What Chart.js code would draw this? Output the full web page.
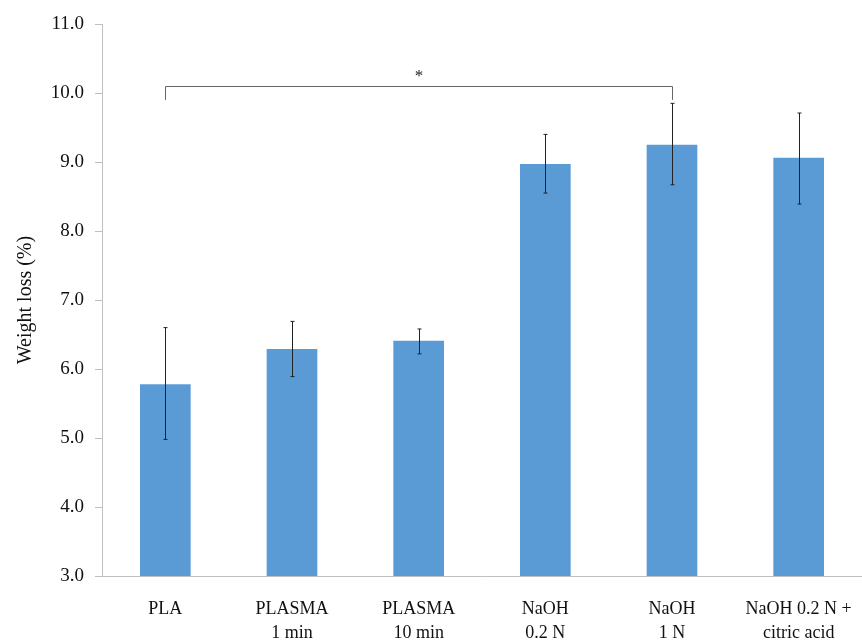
<!DOCTYPE html>
<html>
<head>
<meta charset="utf-8">
<script src="https://cdn.jsdelivr.net/npm/chart.js@4"></script>
<style>
  body { margin: 0; background: #fff; }
  #wrap { width: 862px; height: 642px; }
</style>
</head>
<body>
<div id="wrap"><canvas id="myChart" width="862" height="642"></canvas></div>
<script>
const categories = [['PLA'], ['PLASMA', '1 min'], ['PLASMA', '10 min'], ['NaOH', '0.2 N'], ['NaOH', '1 N'], ['NaOH 0.2 N +', 'citric acid']];
const weightLoss = [5.78, 6.29, 6.41, 8.97, 9.25, 9.06];
const errLow = [4.98, 5.89, 6.22, 8.55, 8.67, 8.39];
const errHigh = [6.60, 6.69, 6.58, 9.40, 9.85, 9.71];
// significance bracket between PLA and NaOH 1 N
const bracketFrom = 0;
const bracketTo = 4;
const bracketTop = 10.1;
const bracketLeg = 9.9;
const bracketLabel = '*';

const fontFamily = "'Liberation Serif', 'DejaVu Serif', serif";

const extras = {
    id: 'extras',
    afterDatasetsDraw(chart) {
        const ctx = chart.ctx;
        const x = chart.scales.x;
        const y = chart.scales.y;
        ctx.save();
        ctx.strokeStyle = '#222';
        ctx.lineWidth = 1;
        for (let i = 0; i < weightLoss.length; i++) {
            const px = Math.round(x.getPixelForValue(i)) + 0.5;
            const top = y.getPixelForValue(errHigh[i]);
            const bot = y.getPixelForValue(errLow[i]);
            ctx.beginPath();
            ctx.moveTo(px, top); ctx.lineTo(px, bot);
            ctx.moveTo(px - 2, top); ctx.lineTo(px + 2, top);
            ctx.moveTo(px - 2, bot); ctx.lineTo(px + 2, bot);
            ctx.stroke();
        }
        const x1 = Math.round(x.getPixelForValue(bracketFrom)) + 0.5;
        const x2 = Math.round(x.getPixelForValue(bracketTo)) + 0.5;
        const yt = Math.round(y.getPixelForValue(bracketTop)) + 0.5;
        const yl = y.getPixelForValue(bracketLeg);
        ctx.strokeStyle = '#666';
        ctx.beginPath();
        ctx.moveTo(x1, yl); ctx.lineTo(x1, yt); ctx.lineTo(x2, yt); ctx.lineTo(x2, yl);
        ctx.stroke();
        ctx.fillStyle = '#222';
        ctx.font = '17px ' + fontFamily;
        ctx.textAlign = 'center';
        ctx.textBaseline = 'bottom';
        ctx.fillText(bracketLabel, (x1 + x2) / 2, yt - 1);
        ctx.restore();
    }
};

function renderChart() {
    const ctx = document.getElementById('myChart').getContext('2d');
    new Chart(ctx, {
        type: 'bar',
        data: {
            labels: categories,
            datasets: [{
                data: weightLoss,
                backgroundColor: '#5b9bd5',
                borderWidth: 0,
                barPercentage: 0.4,
                categoryPercentage: 1
            }]
        },
        options: {
            responsive: false,
            animation: false,
            layout: { padding: { top: 24, right: 0, left: 14, bottom: 0 } },
            plugins: {
                legend: { display: false },
                tooltip: { enabled: false }
            },
            scales: {
                x: {
                    grid: { display: false },
                    border: { display: true, color: '#bfbfbf' },
                    ticks: {
                        color: '#111',
                        font: { family: fontFamily, size: 18, lineHeight: 1.35 },
                        maxRotation: 0,
                        padding: 13
                    },
                    afterFit(scale) {
                        scale.height = 66;
                        scale.paddingLeft = 0;
                        scale.paddingRight = 0;
                    }
                },
                y: {
                    min: 3,
                    max: 11,
                    grid: { display: true, drawOnChartArea: false, drawTicks: true, tickLength: 7, color: '#bfbfbf' },
                    border: { display: true, color: '#bfbfbf' },
                    ticks: {
                        stepSize: 1,
                        color: '#111',
                        padding: 11,
                        font: { family: fontFamily, size: 19 },
                        callback: v => v.toFixed(1)
                    },
                    title: {
                        display: true,
                        text: 'Weight loss (%)',
                        color: '#111',
                        font: { family: fontFamily, size: 20 },
                        padding: 0
                    },
                    afterFit(scale) {
                        scale.width = 88;
                        scale.paddingTop = 0;
                        scale.paddingBottom = 0;
                    }
                }
            }
        },
        plugins: [extras]
    });
}

document.addEventListener('DOMContentLoaded', renderChart);
</script>
</body>
</html>
